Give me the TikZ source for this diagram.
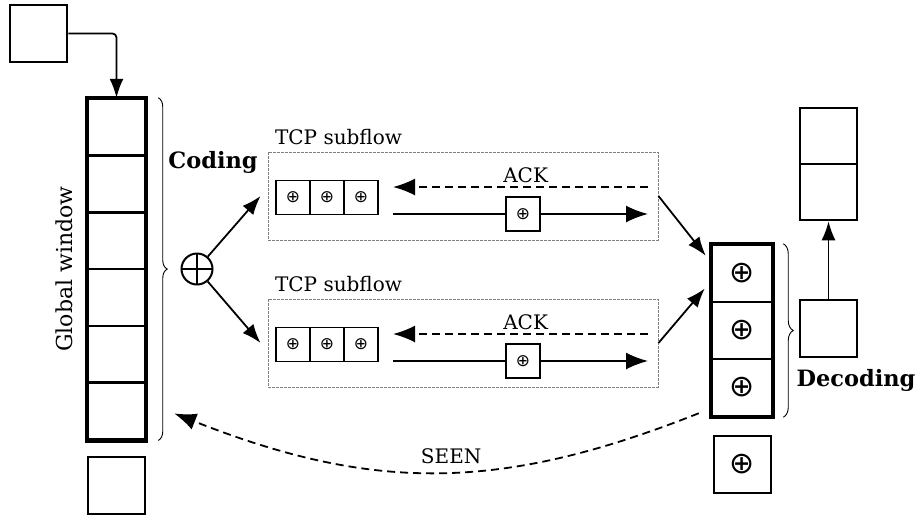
\documentclass[tikz,border=0pt]{standalone}
\usepackage{fontspec}
\setmainfont{DejaVu Serif}
\newfontfamily\symfont{DejaVu Sans}
\usepackage{tikz}
\usetikzlibrary{calc,arrows.meta,positioning,decorations.pathreplacing}

\newcommand{\xorsym}[1]{{\symfont\fontsize{#1}{#1}\selectfont ⊕}}

\begin{document}
\begin{tikzpicture}[x=1pt,y=-1pt,
  cell/.style={draw,line width=2.5pt,minimum width=57pt,minimum height=56.7pt,inner sep=0pt},
  pkt/.style={draw,line width=1.7pt,minimum size=34pt,inner sep=0pt},
  flowbox/.style={draw=gray,line width=0.9pt,dash pattern=on 3pt off 1pt,minimum width=390pt,minimum height=88pt},
  arr/.style={line width=1.8pt,-{Latex[length=19pt,width=14pt]}},
  big arr/.style={line width=1.8pt,-{Latex[length=22pt,width=17pt]}},
  dash line/.style={dash pattern=on 8pt off 5pt},
  brace/.style={decorate,decoration={brace,amplitude=#1},line width=0.9pt},
  lbl/.style={font=\fontsize{20}{24}\selectfont},
  bold lbl/.style={font=\fontsize{22.5}{27}\selectfont\bfseries}]
  \useasboundingbox (0,0) rectangle (917,515);

  % ventana global
  \node[cell,minimum height=57pt] (src) at (38.5,33.5) {};
  \foreach \i in {1,...,6}
    \node[cell] (gw\i) at (116.5,{70.65+56.7*\i}) {};
  \draw[line width=4.2pt] (gw1.north west) rectangle (gw6.south east);
  \node[cell,minimum height=57pt] (nxt) at (116.5,485.5) {};
  \draw[arr,rounded corners=4pt] (src.east) -| (gw1.north);
  \node[rotate=90,font=\fontsize{22}{26}\selectfont] (gwlabel) at (64,269) {Global window};
  \draw[brace=9pt] ([xshift=12pt]gw1.north east) -- ([xshift=12pt]gw6.south east);
  \node[bold lbl] (coding) at (213,162) {Coding};
  \node[circle,draw,line width=2pt,minimum size=31pt,inner sep=0pt,
    path picture={\draw[line width=2pt] (path picture bounding box.north) -- (path picture bounding box.south)
      (path picture bounding box.west) -- (path picture bounding box.east);}] (enc) at (197,269) {};

  % subflujos TCP
  \foreach \f/\y in {1/196,2/343}{
    \node[flowbox] (flow\f) at (463,\y) {};
    \node[lbl,anchor=base west] (tcp\f) at ([xshift=4pt,yshift=7pt]flow\f.north west) {TCP subflow};
    \foreach \k in {1,2,3}
      \node[pkt] (q\f\k) at ({259+34*\k},{\y+1.5}) {\xorsym{17}};
    \coordinate (ackR\f) at (648,{\y-9});
    \coordinate (ackL\f) at (393,{\y-9});
    \draw[big arr,dash line] (ackR\f) -- node[lbl,above,pos=0.48] (ack\f) {ACK} (ackL\f);
    \coordinate (dataL\f) at (393,{\y+18});
    \coordinate (dataR\f) at (648,{\y+18});
    \node[pkt] (p\f) at (523,{\y+18}) {\xorsym{17}};
    \draw[line width=1.8pt] (dataL\f) -- (p\f);
    \draw[big arr] (p\f) -- (dataR\f);
  }
  \draw[arr] (enc) -- ([xshift=-7pt]flow1.west);
  \draw[arr] (enc) -- ([xshift=-7pt]flow2.west);

  % ventana de decodificacion
  \foreach \i in {1,2,3}
    \node[cell,minimum width=60pt,minimum height=57pt] (dw\i) at (742,{216.5+57*\i}) {\xorsym{30}};
  \draw[line width=4.2pt] (dw1.north west) rectangle (dw3.south east);
  \node[cell,minimum height=57pt] (dnxt) at (742.5,464.5) {\xorsym{30}};
  \draw[brace=10pt] ([xshift=10pt]dw1.north east) -- ([xshift=10pt]dw3.south east);
  \node[bold lbl] (decoding) at (856,380) {Decoding};
  \draw[arr] (flow1.east) -- ([xshift=-5pt,yshift=-12pt]dw1.north west);
  \draw[arr] (flow2.east) -- ([xshift=-6pt,yshift=-15pt]dw1.west);

  \node[cell,minimum height=57pt] (out) at (828.5,328.5) {};
  \node[cell,minimum height=56pt] (up1) at (828.5,136) {};
  \node[cell,minimum height=56pt] (up2) at (828.5,192) {};
  \draw[arr] (out.north) -- (up2.south);

  \draw[big arr,dash line] ([xshift=-12pt,yshift=4pt]dw3.south west)
    .. controls (500,492) and (373,492) .. ([xshift=28pt,yshift=27pt]gw6.south east)
    node[lbl,pos=0.47,above=4pt] (seen) {SEEN};
\end{tikzpicture}
\end{document}
